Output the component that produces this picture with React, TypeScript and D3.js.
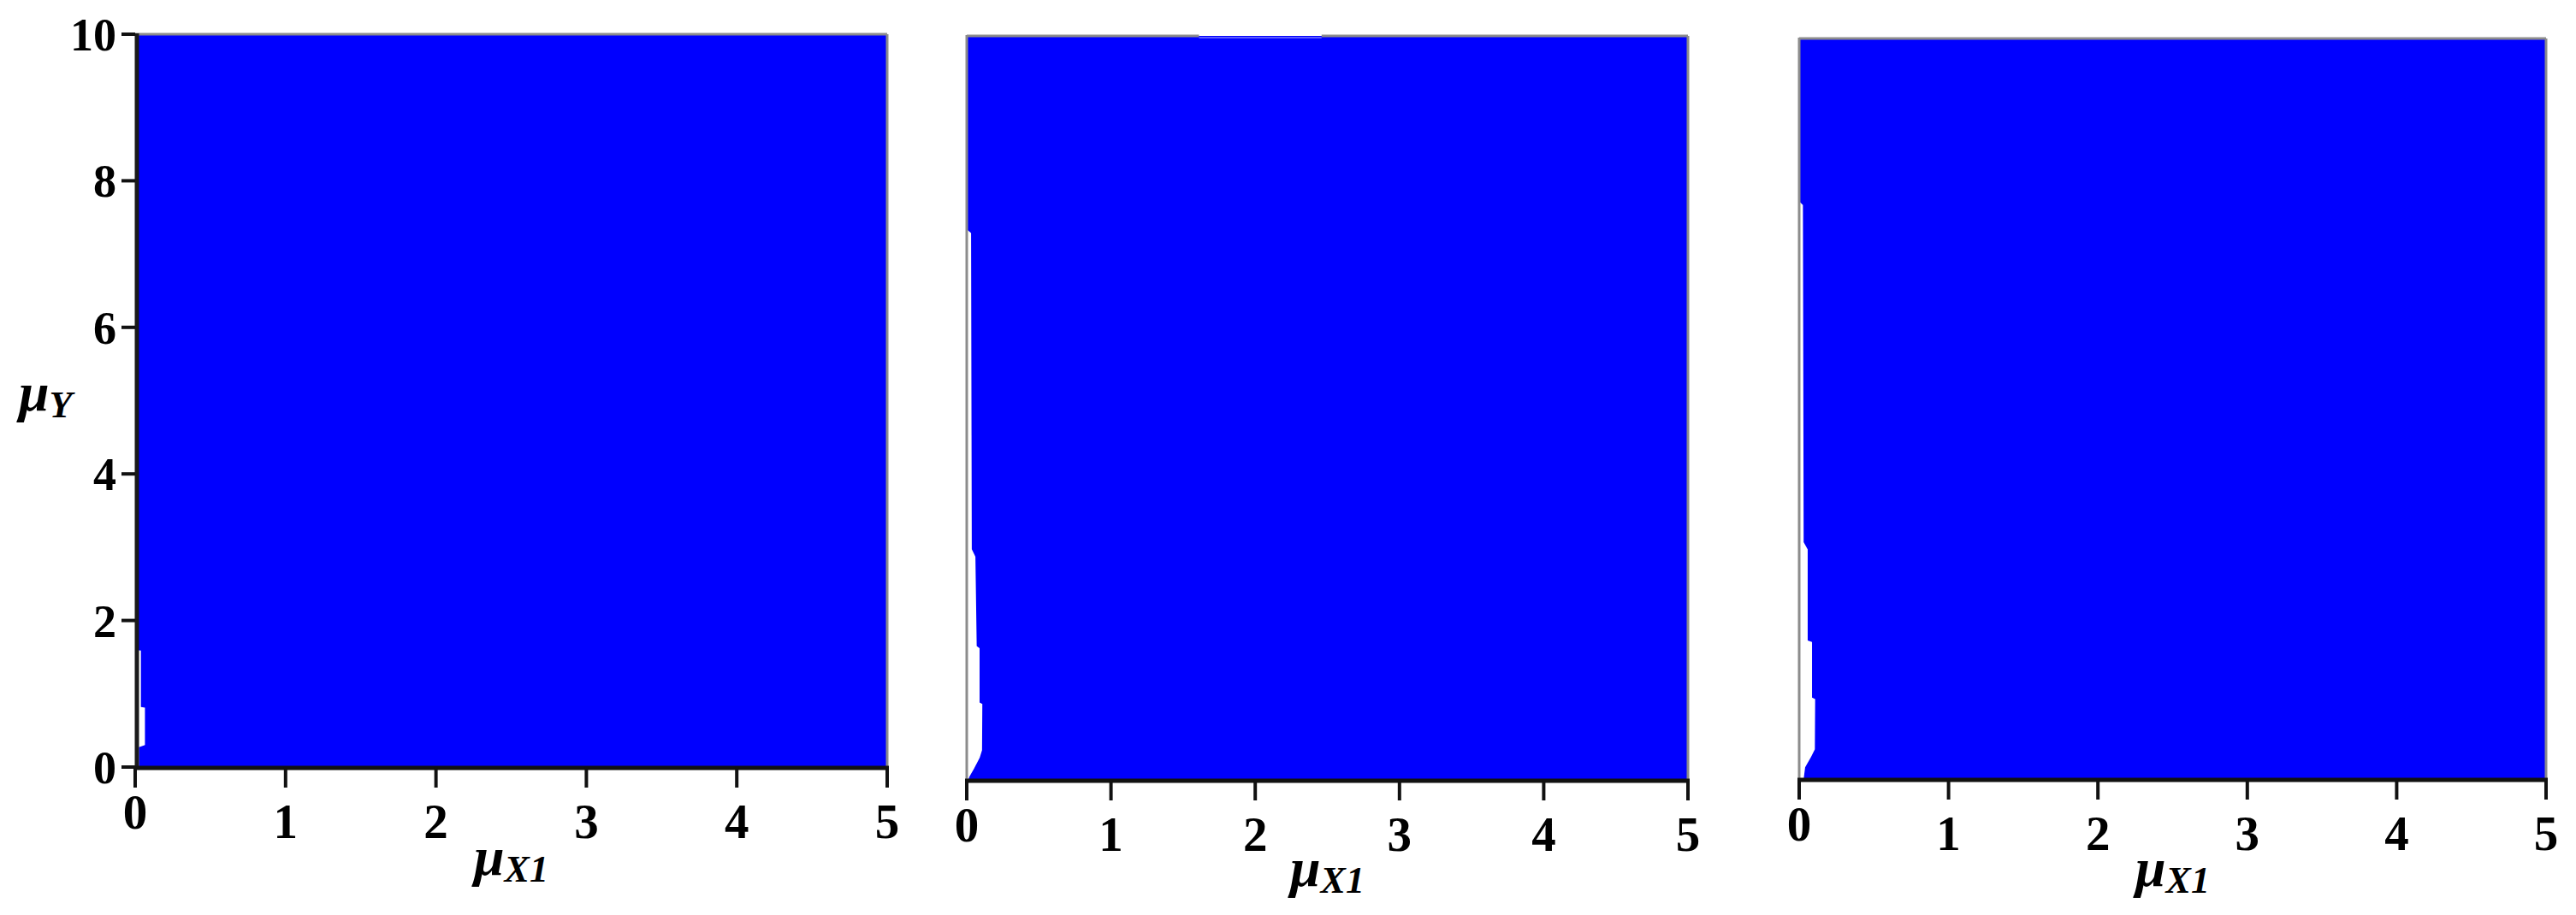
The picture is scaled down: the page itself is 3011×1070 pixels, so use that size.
import React from "react";
import * as d3 from "d3";

const X_DOMAIN: [number, number] = [0, 5];
const Y_DOMAIN: [number, number] = [0, 10];
const X_TICKS = [0, 1, 2, 3, 4, 5];
const Y_TICKS = [0, 2, 4, 6, 8, 10];

// left edge of the blue region in each panel, as [muY, muX1] pairs
const EDGE_1: [number, number][] = [
  [10, 0], [1.6, 0], [1.59, 0.038], [0.82, 0.038], [0.81, 0.065],
  [0.3, 0.065], [0.27, 0.025], [0, 0.025],
];
const EDGE_2: [number, number][] = [
  [10, 0], [7.4, 0], [7.35, 0.03], [3.1, 0.035], [3.0, 0.06],
  [1.8, 0.069], [1.77, 0.089], [1.04, 0.089], [1.02, 0.108],
  [0.4, 0.106], [0.3, 0.09], [0.15, 0.05], [0.05, 0.02], [0, 0.01],
];
const EDGE_3: [number, number][] = [
  [10, 0], [7.8, 0], [7.75, 0.025], [3.2, 0.03], [3.1, 0.057],
  [1.87, 0.057], [1.85, 0.086], [1.1, 0.086], [1.08, 0.107],
  [0.4, 0.105], [0.3, 0.08], [0.16, 0.04], [0, 0.03],
];

// breaks in the top frame line (muX1 ranges)
const TOP_GAPS_1: [number, number][] = [];
const TOP_GAPS_2: [number, number][] = [[1.61, 2.46]];
const TOP_GAPS_3: [number, number][] = [];

const FONT = "'Liberation Serif', 'Times New Roman', serif";
const BLUE = "#0000ff";
const GREY = "#8c8c8c";

const PANELS = [
  { left: 158, right: 1037, top: 40, bottom: 897, edge: EDGE_1, gaps: TOP_GAPS_1, yAxis: true, labelY: 1023 },
  { left: 1130, right: 1973, top: 42, bottom: 912, edge: EDGE_2, gaps: TOP_GAPS_2, yAxis: false, labelY: 1036 },
  { left: 2103, right: 2976, top: 45, bottom: 911, edge: EDGE_3, gaps: TOP_GAPS_3, yAxis: false, labelY: 1036 },
];

const Panel = ({ p }: { p: (typeof PANELS)[number] }) => {
  const x = d3.scaleLinear().domain(X_DOMAIN).range([p.left, p.right]);
  const y = d3.scaleLinear().domain(Y_DOMAIN).range([p.bottom, p.top]);

  const area = d3
    .area<[number, number]>()
    .y((d) => y(d[0]))
    .x0((d) => x(d[1]))
    .x1(x(X_DOMAIN[1]));

  // top frame segments = domain minus the gaps
  const segs: [number, number][] = [];
  let start = X_DOMAIN[0];
  p.gaps.forEach(([a, b]) => {
    segs.push([start, a]);
    start = b;
  });
  segs.push([start, X_DOMAIN[1]]);

  const cx = (p.left + p.right) / 2;

  return (
    <g>
      <path d={area(p.edge) || ""} fill={BLUE} />
      {p.gaps.map(([a, b], i) => (
        <line key={"g" + i} x1={x(a)} x2={x(b)} y1={y(10) + 2} y2={y(10) + 2} stroke="#5a5aff" strokeWidth={2} />
      ))}
      {segs.map(([a, b], i) => (
        <line key={i} x1={x(a)} x2={x(b)} y1={y(10)} y2={y(10)} stroke={GREY} strokeWidth={3} />
      ))}
      <line x1={x(5)} x2={x(5)} y1={y(10)} y2={y(0)} stroke={GREY} strokeWidth={3} />
      {p.yAxis ? (
        <line x1={p.left + 2} x2={p.left + 2} y1={y(10) - 1} y2={y(0)} stroke="#1a1a1a" strokeWidth={5} />
      ) : (
        <line x1={p.left} x2={p.left} y1={y(10) - 1} y2={y(0)} stroke={GREY} strokeWidth={3} />
      )}
      <line x1={p.left - 2} x2={p.right + 2} y1={y(0) + 1} y2={y(0) + 1} stroke="#111" strokeWidth={5} />
      {X_TICKS.map((t) => (
        <g key={t}>
          <line x1={x(t)} x2={x(t)} y1={y(0)} y2={y(0) + 24} stroke="#111" strokeWidth={4} />
          <text
            x={x(t)}
            y={y(0) + (t === 0 ? 72 : 83)}
            textAnchor="middle"
            fontFamily={FONT}
            fontWeight="bold"
            fontSize={57}
          >
            {t}
          </text>
        </g>
      ))}
      {p.yAxis &&
        Y_TICKS.map((t) => (
          <g key={t}>
            <line x1={p.left - 16} x2={p.left} y1={y(t)} y2={y(t)} stroke="#111" strokeWidth={4} />
            <text
              x={p.left - 22}
              y={y(t) + 19}
              textAnchor="end"
              fontFamily={FONT}
              fontWeight="bold"
              fontSize={54}
            >
              {t}
            </text>
          </g>
        ))}
      <text x={cx} y={p.labelY} textAnchor="middle" fontFamily={FONT} fontWeight="bold" fontStyle="italic">
        <tspan fontSize={64}>μ</tspan>
        <tspan fontSize={44} dy={8}>X1</tspan>
      </text>
    </g>
  );
};

export default function App() {
  return (
    <svg
      width={3011}
      height={1070}
      style={{ position: "absolute", left: 0, top: 0, background: "#fff" }}
    >
      <rect width={3011} height={1070} fill="#fff" />
      {PANELS.map((p, i) => (
        <Panel key={i} p={p} />
      ))}
      <text x={22} y={480} fontFamily={FONT} fontWeight="bold" fontStyle="italic">
        <tspan fontSize={64}>μ</tspan>
        <tspan fontSize={44} dy={8}>Y</tspan>
      </text>
    </svg>
  );
}
